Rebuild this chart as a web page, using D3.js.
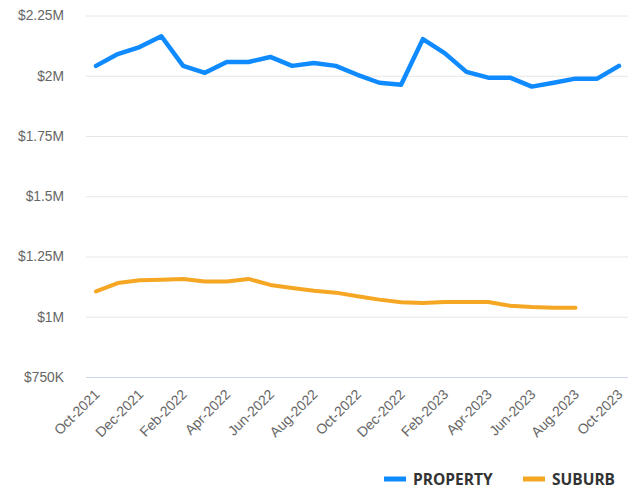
<!DOCTYPE html>
<html>
<head>
<meta charset="utf-8">
<script src="https://cdn.jsdelivr.net/npm/d3@7"></script>
<style>
  body { margin: 0; background: #fff; }
  svg { font-family: 'Open Sans', sans-serif; }
  .tick text { fill: #666; font-size: 13.8px; }
  .legend text { fill: #333; font-size: 15.5px; font-weight: bold; }
</style>
</head>
<body>
<svg width="635" height="491"></svg>
<script>
const months = ['Oct-2021','Nov-2021','Dec-2021','Jan-2022','Feb-2022','Mar-2022','Apr-2022','May-2022',
  'Jun-2022','Jul-2022','Aug-2022','Sep-2022','Oct-2022','Nov-2022','Dec-2022','Jan-2023','Feb-2023',
  'Mar-2023','Apr-2023','May-2023','Jun-2023','Jul-2023','Aug-2023','Sep-2023','Oct-2023'];

const property = [2.041, 2.090, 2.119, 2.164, 2.041, 2.012, 2.057, 2.057, 2.078, 2.041, 2.053, 2.041,
  2.004, 1.971, 1.963, 2.152, 2.094, 2.016, 1.992, 1.992, 1.955, 1.971, 1.988, 1.988, 2.041];

const suburb = [1.105, 1.140, 1.151, 1.154, 1.157, 1.146, 1.146, 1.157, 1.132, 1.119, 1.108, 1.100,
  1.085, 1.071, 1.060, 1.057, 1.061, 1.061, 1.061, 1.046, 1.040, 1.037, 1.037];

const yTicks = [0.75, 1, 1.25, 1.5, 1.75, 2, 2.25];
const yLabels = ['$750K', '$1M', '$1.25M', '$1.5M', '$1.75M', '$2M', '$2.25M'];

const series = [
  {name: 'PROPERTY', values: property, color: '#0f8bff', width: 4.5},
  {name: 'SUBURB', values: suburb, color: '#f5a623', width: 4}
];

const svg = d3.select('svg');
const plotLeft = 86, plotRight = 628, plotTop = 15.5, plotBottom = 377;

const x = d3.scalePoint()
    .domain(months)
    .range([96, 619]);

const y = d3.scaleLinear()
    .domain([0.75, 2.25])
    .range([plotBottom, plotTop]);

// gridlines + y labels
const yAxisG = svg.append('g')
    .attr('transform', `translate(${plotLeft},0)`)
    .call(d3.axisLeft(y)
      .tickValues(yTicks)
      .tickSize(-(plotRight - plotLeft))
      .tickPadding(22)
      .tickFormat((d, i) => yLabels[i]));
yAxisG.select('.domain').remove();
yAxisG.selectAll('.tick line')
    .attr('stroke', d => d === 0.75 ? '#ccd6eb' : '#e6e6e6');

// x labels
const xAxisG = svg.append('g')
    .attr('transform', `translate(0,${plotBottom})`)
    .call(d3.axisBottom(x)
      .tickValues(months.filter((m, i) => i % 2 === 0))
      .tickSize(0));
xAxisG.select('.domain').remove();
xAxisG.selectAll('.tick text')
    .attr('text-anchor', 'end')
    .attr('dy', 0)
    .attr('transform', 'translate(2,16) rotate(-45)')
    .style('font-size', '14px');

const line = d3.line()
    .x((d, i) => x(months[i]))
    .y(d => y(d));

series.forEach(s => {
  svg.append('path')
      .datum(s.values)
      .attr('fill', 'none')
      .attr('stroke', s.color)
      .attr('stroke-width', s.width)
      .attr('stroke-linejoin', 'round')
      .attr('stroke-linecap', 'round')
      .attr('d', line);
});

// legend
const legendX = [384, 523];
const legend = svg.append('g').attr('class', 'legend');
series.forEach((s, i) => {
  const g = legend.append('g').attr('transform', `translate(${legendX[i]},479)`);
  g.append('line')
      .attr('x1', 0).attr('x2', 22)
      .attr('stroke', s.color)
      .attr('stroke-width', 5);
  g.append('text')
      .attr('x', 29)
      .attr('dy', '0.36em')
      .text(s.name);
});
</script>
</body>
</html>
